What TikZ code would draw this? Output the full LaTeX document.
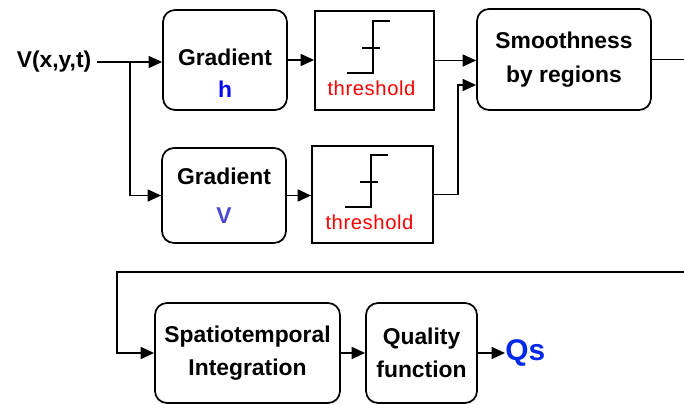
\documentclass[tikz,border=0pt]{standalone}
\usepackage{fontspec}
\setmainfont{Liberation Sans}
\usepackage{xcolor}
\usetikzlibrary{arrows.meta, positioning, calc}
\definecolor{gradblue}{RGB}{10, 10, 240}
\definecolor{vblue}{RGB}{72, 72, 208}
\definecolor{thred}{RGB}{255, 0, 0}
\definecolor{qsblue}{RGB}{0, 40, 235}

\tikzset{
  blk/.style={draw, line width=1pt, rounded corners=0.24cm, align=center,
    font=\fontsize{13}{19}\selectfont\bfseries},
  blktext/.style={align=center, font=\fontsize{13}{19}\selectfont\bfseries},
  thr/.style={draw, line width=1pt},
  arr/.style={line width=1pt, -{Triangle[length=0.27cm, width=0.24cm]}},
  wire/.style={line width=1pt}
}

\begin{document}
\begin{tikzpicture}[scale=1.0]
  \useasboundingbox (0,0) rectangle (13.68,8.08);
  % input and the two gradients
  \node[font=\fontsize{13}{15}\selectfont\bfseries] (vin) at (1.08,6.84) {V(x,y,t)};
  \node[blk, minimum width=2.48cm, minimum height=2.0cm] (gh) at (4.5,6.88) {};
  \node[blktext] (ght) at ([yshift=-0.26cm]gh.center)
    {Gradient\\[-1pt]{\color{gradblue}h}};
  \node[blk, minimum width=2.48cm, minimum height=1.9cm] (gv) at (4.48,4.17)
    {Gradient\\[3pt]{\color{vblue}V}};
  % threshold boxes
  \node[thr, minimum width=2.38cm, minimum height=1.98cm] (t1) at (7.49,6.87) {};
  \node[thr, minimum width=2.42cm, minimum height=1.94cm] (t2) at (7.45,4.19) {};
  \foreach \t in {t1,t2} {
    \draw[line width=0.9pt] ($(\t.center)+(-0.55,-0.25)$) -- ++(0.52,0) -- ++(0,1.04) -- ++(0.34,0);
    \draw[line width=0.9pt] ($(\t.center)+(-0.25,0.25)$) -- ++(0.36,0);
    \node[text=thred, font=\fontsize{11.5}{13}\selectfont\addfontfeature{LetterSpace=3}]
      (\t l) at ($(\t.center)+(-0.06,-0.56)$) {threshold};
  }
  \node[blk, minimum width=3.48cm, minimum height=2.02cm] (sm) at (11.28,6.89)
    {Smoothness\\by regions};
  % second row
  \node[blk, minimum width=3.7cm, minimum height=2.0cm] (sti) at (4.95,1.02)
    {Spatiotemporal\\Integration};
  \node[blk, minimum width=2.22cm, minimum height=2.0cm] (qf) at (8.43,1.02)
    {Quality\\function};
  \node[text=qsblue, font=\fontsize{17}{19}\selectfont\bfseries, anchor=west, inner sep=0pt]
    (qs) at (10.1,1.02) {Qs};
  \coordinate (br) at (2.6,6.84);
  \coordinate (re1) at (13.68,6.92);
  \coordinate (re2) at (13.68,2.64);
  % connectors
  \draw[arr] (vin.east) -- (vin.east -| gh.west);
  \draw[arr] (br) |- (gv.west);
  \draw[arr] (gh.east) -- (gh.east -| t1.west);
  \draw[arr] (gv.east) -- (gv.east -| t2.west);
  \draw[arr] (t1.east) -- (t1.east -| sm.west);
  \draw[arr] (t2.east) -- ++(0.48,0) |- ([yshift=-0.51cm]sm.west);
  \draw[wire] (sm.east) -- (sm.east -| re1);
  \draw[arr] (re2) -- (2.34,2.64) |- (sti.west);
  \draw[arr] (sti.east) -- (qf.west);
  \draw[arr] (qf.east) -- (qf.east -| qs.west);
\end{tikzpicture}
\end{document}
